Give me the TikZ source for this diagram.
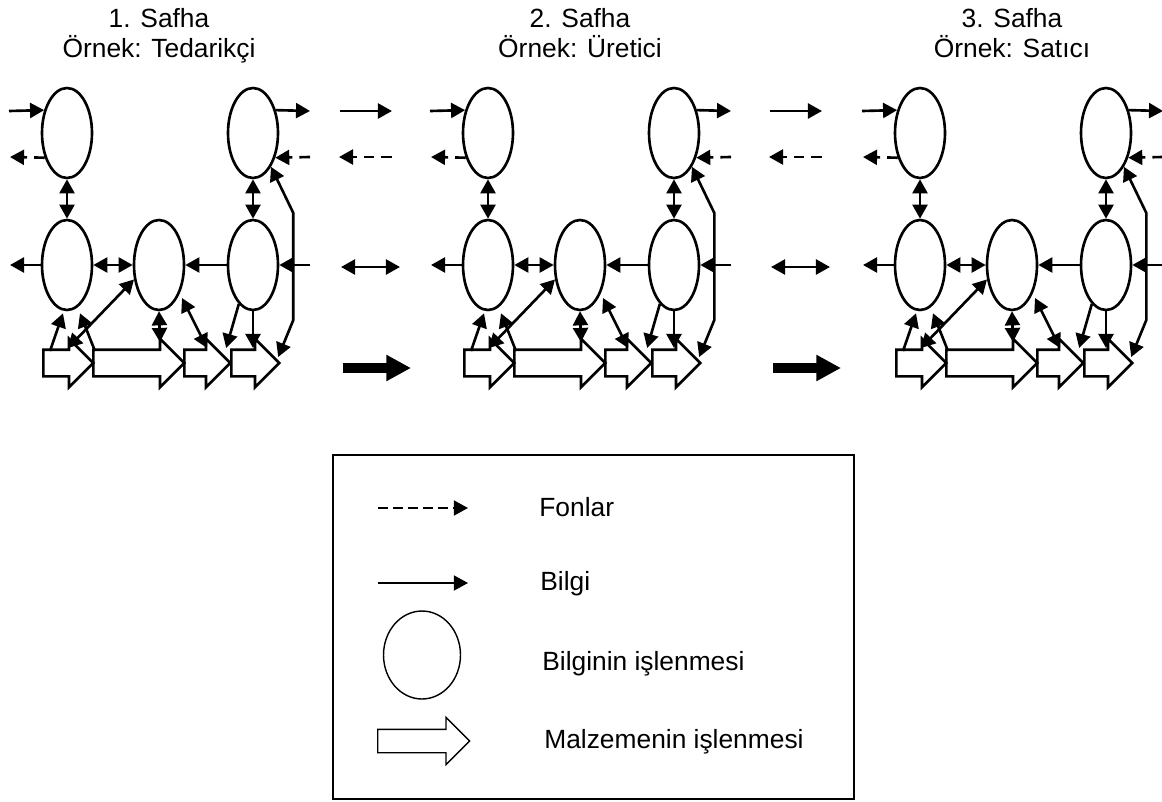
\documentclass[tikz,border=0pt]{standalone}
\usepackage{fontspec}
\setmainfont{Liberation Sans}
\usetikzlibrary{shapes.geometric, shapes.arrows, arrows.meta, calc}

\tikzset{
  info/.style={draw, ellipse, line width=1.5pt, minimum width=1cm, minimum height=1.8cm, inner sep=0pt},
  material/.style={draw, single arrow, line width=1.5pt, inner sep=0pt, text height=0.24cm, text depth=0.24cm, single arrow head extend=0.22cm, single arrow tip angle=90, anchor=west},
  flow/.style={-{Triangle[length=8pt, width=8.5pt]}, line width=1.5pt},
  both/.style={{Triangle[length=8pt, width=8.5pt]}-{Triangle[length=8pt, width=8.5pt]}, line width=1.5pt},
  fund/.style={flow, dash pattern=on 6pt off 4pt},
  bulk/.style={-{Triangle[length=14pt, width=14pt]}, line width=5.7pt},
  txt/.style={font=\fontsize{15}{17}\selectfont}
}

\begin{document}
\begin{tikzpicture}[x=0.02cm, y=-0.02cm]
  \useasboundingbox (0,0) rectangle (1162,801);

  % the three stages of the chain
  \foreach \s/\X/\who in {1/0/Tedarikçi, 2/421/Üretici, 3/853/Satıcı} {
    \node[txt, align=center, anchor=north, inner sep=0pt] (title-\s) at (\X+159,8) {\s. Safha\\Örnek: \who};

    % information processing
    \node[info] (T1-\s) at (\X+67,133) {};
    \node[info] (T2-\s) at (\X+253,133) {};
    \node[info] (M1-\s) at (\X+67,265) {};
    \node[info] (M2-\s) at (\X+159,265) {};
    \node[info] (M3-\s) at (\X+253,265) {};

    % material processing
    \node[material, minimum height=1cm] (B1-\s) at (\X+42,363) {};
    \node[material, minimum height=1.82cm] (B2-\s) at (\X+92,363) {};
    \node[material, minimum height=0.92cm] (B3-\s) at (\X+183,363) {};
    \node[material, minimum height=0.96cm] (B4-\s) at (\X+230,363) {};

    % loose ends left and right
    \coordinate (inA-\s) at (\X+9,111);
    \coordinate (outA-\s) at (\X+10,157);
    \coordinate (outB-\s) at (\X+10,265);
    \coordinate (toA-\s) at (\X+310,111);
    \coordinate (fromA-\s) at (\X+310,157);
    \coordinate (fromB-\s) at (\X+310,265);

    \draw[flow] (inA-\s) -- (T1-\s.135);
    \draw[fund] (T1-\s.228) -- (outA-\s);
    \draw[flow] (T2-\s.45) -- (toA-\s);
    \draw[fund] (fromA-\s) -- (T2-\s.-48);
    \draw[both] (T1-\s) -- (M1-\s);
    \draw[both] (T2-\s) -- (M3-\s);
    \draw[flow] (M1-\s) -- (outB-\s);
    \draw[both] (M1-\s) -- (M2-\s);
    \draw[flow] (M3-\s) -- (M2-\s);
    \draw[flow] (fromB-\s) -- (M3-\s);

    % between ellipses and material
    \draw[flow] ($(B1-\s.west)+(8,-12)$) -- ($(M1-\s.south)+(-4,2)$);
    \draw[flow] ($(B2-\s.west)+(3,-12)$) -- ($(M1-\s.south)+(13,2)$);
    \draw[both] ($(B1-\s.west)+(26,-15)$) -- (M2-\s.210);
    \draw[both] ($(B2-\s.west)+(68,-21)$) -- (M2-\s.south);
    \draw[both] ($(M2-\s.center)+(23,33)$) -- ($(B3-\s.west)+(24,-15)$);
    \draw[flow] (M3-\s.250) -- ($(B3-\s.tip)+(-6,-15)$);
    \draw[flow] (M3-\s.south) -- ($(B4-\s.west)+(23,-15)$);
    \draw[both] ($(B4-\s.tip)+(-3,-6)$) -- ($(M3-\s.east)+(14,55)$)
      -- ($(M3-\s.east)+(14,-52)$) -- (T2-\s.-62);
  }

  % flows between the stages
  \foreach \g/\C in {1/370, 2/800} {
    \coordinate (gap-\g) at (\C,0);
    \draw[flow] ($(gap-\g)+(-30,111)$) -- ($(gap-\g)+(22,111)$);
    \draw[fund] ($(gap-\g)+(22,157)$) -- ($(gap-\g)+(-31,157)$);
    \draw[both] ($(gap-\g)+(-29,267)$) -- ($(gap-\g)+(30,267)$);
    \draw[bulk] ($(gap-\g)+(-27,368)$) -- ($(gap-\g)+(41,368)$);
  }

  % legend
  \node[draw, line width=1.5pt, minimum width=10.42cm, minimum height=6.88cm, inner sep=0pt] (legend) at (593.5,627) {};
  \coordinate (keyF1) at (378,508);
  \coordinate (keyF2) at (468,508);
  \coordinate (keyI1) at (378,583);
  \coordinate (keyI2) at (468,583);
  \draw[flow, line width=1pt, dash pattern=on 5.7pt off 2.8pt] (keyF1) -- (keyF2);
  \draw[flow, line width=1pt] (keyI1) -- (keyI2);
  \node[info, line width=0.8pt, minimum width=1.54cm, minimum height=1.76cm] (keyP) at (422,655) {};
  \node[material, line width=0.8pt, text height=0.22cm, text depth=0.22cm, single arrow head extend=0.24cm, minimum height=1.84cm] (keyM) at (377,741) {};

  \node[txt, anchor=base west, inner sep=0pt] (fonlar) at (539,516) {Fonlar};
  \node[txt, anchor=base west, inner sep=0pt] (bilgi) at (540,590) {Bilgi};
  \node[txt, anchor=base west, inner sep=0pt] (bilgiis) at (542,670) {Bilginin işlenmesi};
  \node[txt, anchor=base west, inner sep=0pt] (malzis) at (544,748) {Malzemenin işlenmesi};
\end{tikzpicture}
\end{document}
